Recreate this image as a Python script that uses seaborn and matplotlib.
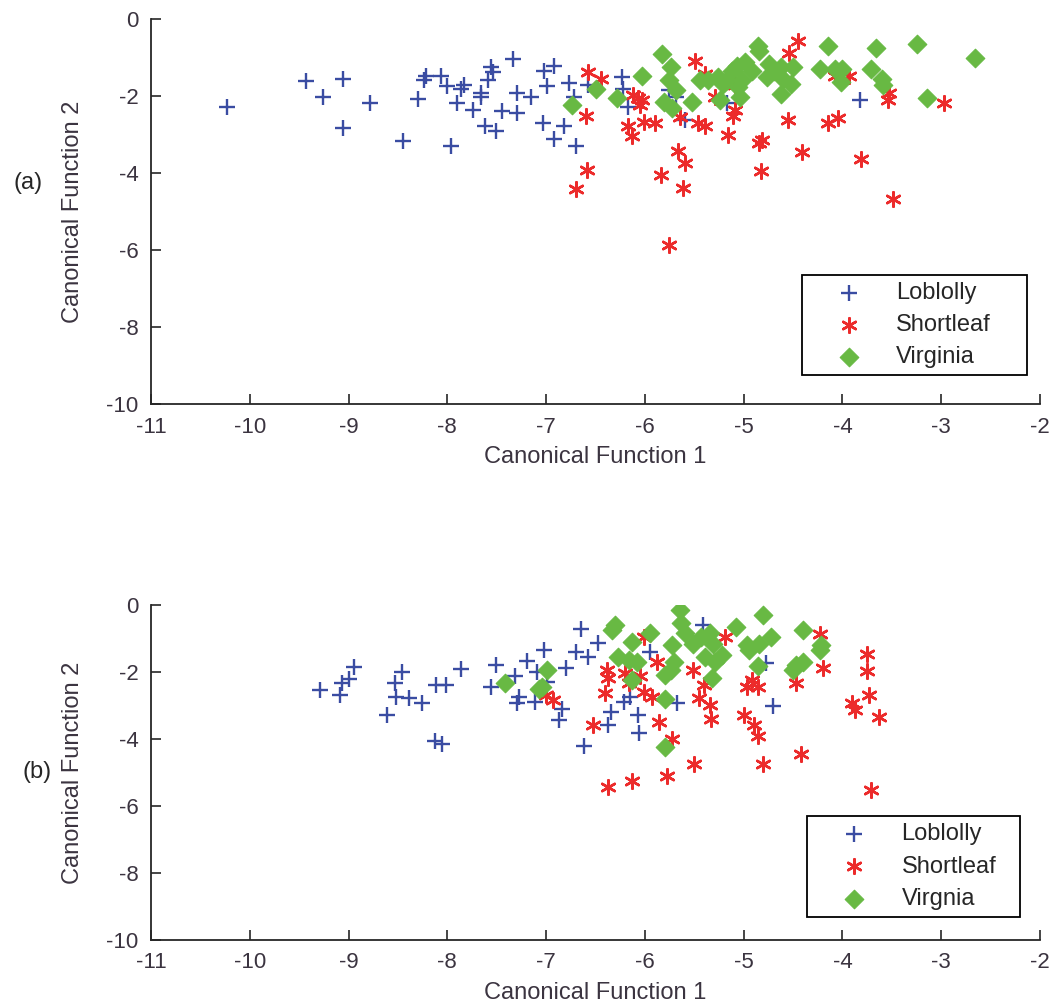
"""
Canonical discriminant scores - Loblolly / Shortleaf / Virginia pine
two panels (a) and (b)
"""

import matplotlib
matplotlib.use("Agg")
import matplotlib.pyplot as plt
import seaborn as sns

sns.set_style("ticks")
plt.rcParams["font.family"] = ["Liberation Sans", "DejaVu Sans"]
plt.rcParams["axes.unicode_minus"] = False

# ── data ─────────────────────────────────────────────────────────────────────
species_a = ["Loblolly", "Shortleaf", "Virginia"]
species_b = ["Loblolly", "Shortleaf", "Virgnia"]

a_lob_x = [-10.23, -9.43, -9.26, -9.06, -9.06, -8.78, -8.45, -8.30, -8.24, -8.22,
           -8.06, -8.00, -7.90, -7.96, -7.86, -7.83, -7.74, -7.66, -7.66, -7.56,
           -7.54, -7.59, -7.62, -7.51, -7.45, -7.34, -7.29, -7.29, -7.15, -7.02,
           -6.92, -6.99, -7.03, -6.92, -6.82, -6.77, -6.70, -6.58, -6.72, -6.23,
           -6.22, -6.17, -5.76, -5.69, -5.59, -5.17, -3.82]
a_lob_y = [-2.29, -1.61, -2.02, -1.56, -2.82, -2.18, -3.16, -2.07, -1.59, -1.49,
           -1.49, -1.73, -2.18, -3.29, -1.83, -1.72, -2.35, -1.92, -2.02, -1.25,
           -1.38, -1.58, -2.79, -2.90, -2.39, -1.04, -1.92, -2.43, -2.02, -1.34,
           -1.23, -1.75, -2.69, -3.12, -2.79, -1.66, -3.31, -1.72, -2.02, -1.51,
           -1.81, -2.28, -1.85, -2.02, -2.62, -2.19, -2.11]

a_sho_x = [-6.58, -6.44, -6.60, -6.59, -6.70, -6.12, -6.07, -6.03, -6.05, -6.17,
           -6.13, -6.01, -5.90, -5.84, -5.66, -5.59, -5.61, -5.76, -5.64, -5.49,
           -5.46, -5.39, -5.16, -5.11, -5.29, -5.39, -4.45, -4.54, -5.09, -4.55,
           -4.84, -4.81, -4.82, -4.41, -4.15, -4.05, -4.08, -3.93, -3.81, -3.53,
           -3.54, -3.49, -2.97, -5.09]
a_sho_y = [-1.38, -1.55, -2.52, -3.91, -4.42, -1.98, -2.06, -2.11, -2.24, -2.79,
           -3.05, -2.67, -2.69, -4.04, -3.44, -3.74, -4.38, -5.88, -2.54, -1.08,
           -2.71, -2.78, -3.01, -2.52, -2.02, -1.42, -0.57, -0.89, -2.37, -2.62,
           -3.22, -3.14, -3.95, -3.46, -2.71, -2.58, -1.47, -1.49, -3.63, -1.92,
           -2.11, -4.68, -2.19, -1.72]

a_vir_x = [-6.74, -6.49, -6.28, -6.03, -5.83, -5.74, -5.76, -5.69, -5.81, -5.73,
           -5.52, -5.44, -5.36, -5.26, -5.21, -5.24, -5.12, -5.07, -5.06, -4.86,
           -4.84, -4.99, -4.92, -5.17, -5.02, -5.04, -4.74, -4.76, -4.69, -4.62,
           -4.60, -4.52, -4.50, -4.62, -4.15, -4.23, -4.08, -4.00, -4.01, -3.66,
           -3.71, -3.60, -3.59, -3.25, -3.14, -2.66]
a_vir_y = [-2.24, -1.81, -2.04, -1.47, -0.91, -1.25, -1.59, -1.85, -2.15, -2.32,
           -2.15, -1.59, -1.59, -1.51, -1.68, -2.11, -1.34, -1.21, -1.77, -0.69,
           -0.82, -1.12, -1.34, -1.59, -1.59, -2.02, -1.16, -1.51, -1.34, -1.25,
           -1.55, -1.68, -1.25, -1.94, -0.69, -1.29, -1.29, -1.29, -1.64, -0.74,
           -1.29, -1.55, -1.72, -0.65, -2.04, -1.01]

b_lob_x = [-9.29, -9.09, -9.07, -9.00, -8.94, -8.61, -8.53, -8.52, -8.46, -8.39,
           -8.26, -8.11, -8.01, -7.86, -8.12, -8.05, -7.51, -7.56, -7.31, -7.27,
           -7.29, -7.19, -7.11, -7.09, -7.02, -6.99, -6.84, -6.87, -6.80, -6.70,
           -6.58, -6.65, -6.47, -6.62, -6.37, -6.34, -6.21, -6.15, -6.07, -6.06,
           -5.95, -5.68, -5.41, -4.77, -4.70]
b_lob_y = [-2.54, -2.69, -2.34, -2.22, -1.85, -3.29, -2.33, -2.76, -2.00, -2.79,
           -2.92, -2.40, -2.40, -1.90, -4.06, -4.16, -1.80, -2.46, -2.13, -2.75,
           -2.92, -1.67, -2.89, -2.00, -1.33, -2.30, -3.09, -3.44, -1.87, -1.40,
           -1.55, -0.73, -1.13, -4.22, -3.59, -3.19, -2.89, -2.75, -3.29, -3.82,
           -1.40, -2.94, -0.60, -1.73, -3.02]

b_sho_x = [-6.93, -7.00, -6.53, -6.38, -6.37, -6.40, -6.37, -6.20, -6.16, -6.05,
           -6.13, -6.01, -5.93, -6.01, -5.88, -5.86, -5.78, -5.73, -5.51, -5.50,
           -5.40, -5.45, -5.34, -5.33, -5.19, -5.00, -4.97, -4.92, -4.86, -4.90,
           -4.86, -4.80, -4.47, -4.42, -4.23, -4.20, -3.75, -3.75, -3.73, -3.90,
           -3.87, -3.63, -3.71]
b_sho_y = [-2.85, -2.70, -3.57, -1.95, -2.19, -2.64, -5.44, -2.04, -2.34, -2.13,
           -5.24, -2.60, -2.76, -0.95, -1.70, -3.49, -5.09, -3.99, -1.93, -4.74,
           -2.40, -2.79, -2.99, -3.39, -0.95, -3.29, -2.46, -2.23, -2.44, -3.59,
           -3.92, -4.76, -2.33, -4.44, -0.87, -1.87, -1.47, -1.97, -2.69, -2.94,
           -3.14, -3.34, -5.52]

b_vir_x = [-7.42, -6.99, -7.07, -7.04, -6.30, -6.33, -6.27, -6.13, -6.16, -6.08,
           -6.13, -5.95, -5.80, -5.80, -5.73, -5.71, -5.80, -5.74, -5.64, -5.63,
           -5.59, -5.51, -5.43, -5.34, -5.31, -5.39, -5.29, -5.22, -5.32, -5.08,
           -4.80, -4.97, -4.95, -4.84, -4.72, -4.85, -4.40, -4.22, -4.23, -4.50,
           -4.47, -4.40]
b_vir_y = [-2.33, -1.95, -2.52, -2.44, -0.60, -0.75, -1.55, -1.10, -1.65, -1.70,
           -2.25, -0.83, -2.82, -4.24, -1.20, -1.70, -2.10, -1.95, -0.15, -0.55,
           -0.85, -1.15, -0.95, -0.85, -1.15, -1.55, -1.70, -1.50, -2.17, -0.65,
           -0.30, -1.18, -1.35, -1.15, -0.95, -1.83, -0.75, -1.20, -1.35, -1.95,
           -1.80, -1.70]

x_ticks = list(range(-11, -1))
y_ticks = [0, -2, -4, -6, -8, -10]

BLUE, RED, GREEN = "#3a4ca2", "#ec2b2b", "#68b943"
TXT = "#3b3440"


def draw_panel(ax, lob, sho, vir, names, legend_box):
    sns.scatterplot(x=lob[0], y=lob[1], marker="+", color=BLUE, s=130,
                    linewidth=1.7, label=names[0], ax=ax)
    sns.scatterplot(x=sho[0], y=sho[1], marker=(6, 2, 0), color=RED, s=110,
                    linewidth=1.8, label=names[1], ax=ax)
    sns.scatterplot(x=vir[0], y=vir[1], marker="D", color=GREEN, s=90,
                    edgecolor=GREEN, linewidth=0.8, label=names[2], ax=ax)

    ax.set_xlim(-11, -2); ax.set_ylim(-10, 0)
    ax.set_xticks(x_ticks); ax.set_yticks(y_ticks)
    ax.tick_params(direction="in", length=7, width=1.2, labelsize=16,
                   pad=9, labelcolor=TXT)
    for sp in ax.spines.values():
        sp.set_linewidth(1.3)
    sns.despine(ax=ax)
    ax.set_xlabel("Canonical Function 1", fontsize=17, color=TXT, labelpad=6)
    ax.set_ylabel("Canonical Function 2", fontsize=17, color=TXT, labelpad=16)

    leg = ax.legend(loc="lower left", bbox_to_anchor=legend_box, mode="expand",
                    fontsize=17, frameon=True, fancybox=False, framealpha=1,
                    edgecolor="black", borderpad=0.3, labelspacing=0.43,
                    handlelength=3.4, handletextpad=0.3, borderaxespad=0)
    leg.get_frame().set_linewidth(1.3)


fig = plt.figure(figsize=(10.5, 10.02), dpi=100)
ax_a = fig.add_axes([0.1438, 0.5968, 0.8467, 0.3842])
ax_b = fig.add_axes([0.1438, 0.0619, 0.8467, 0.3343])

draw_panel(ax_a, (a_lob_x, a_lob_y), (a_sho_x, a_sho_y), (a_vir_x, a_vir_y),
           species_a, (0.732, 0.075, 0.253, 0.263))
draw_panel(ax_b, (b_lob_x, b_lob_y), (b_sho_x, b_sho_y), (b_vir_x, b_vir_y),
           species_b, (0.738, 0.069, 0.240, 0.30))

fig.text(28 / 1050, 1 - 183 / 1002, "(a)", fontsize=17, ha="center", va="center")
fig.text(37 / 1050, 1 - 772 / 1002, "(b)", fontsize=17, ha="center", va="center")

fig.savefig("out.png", dpi=100)
